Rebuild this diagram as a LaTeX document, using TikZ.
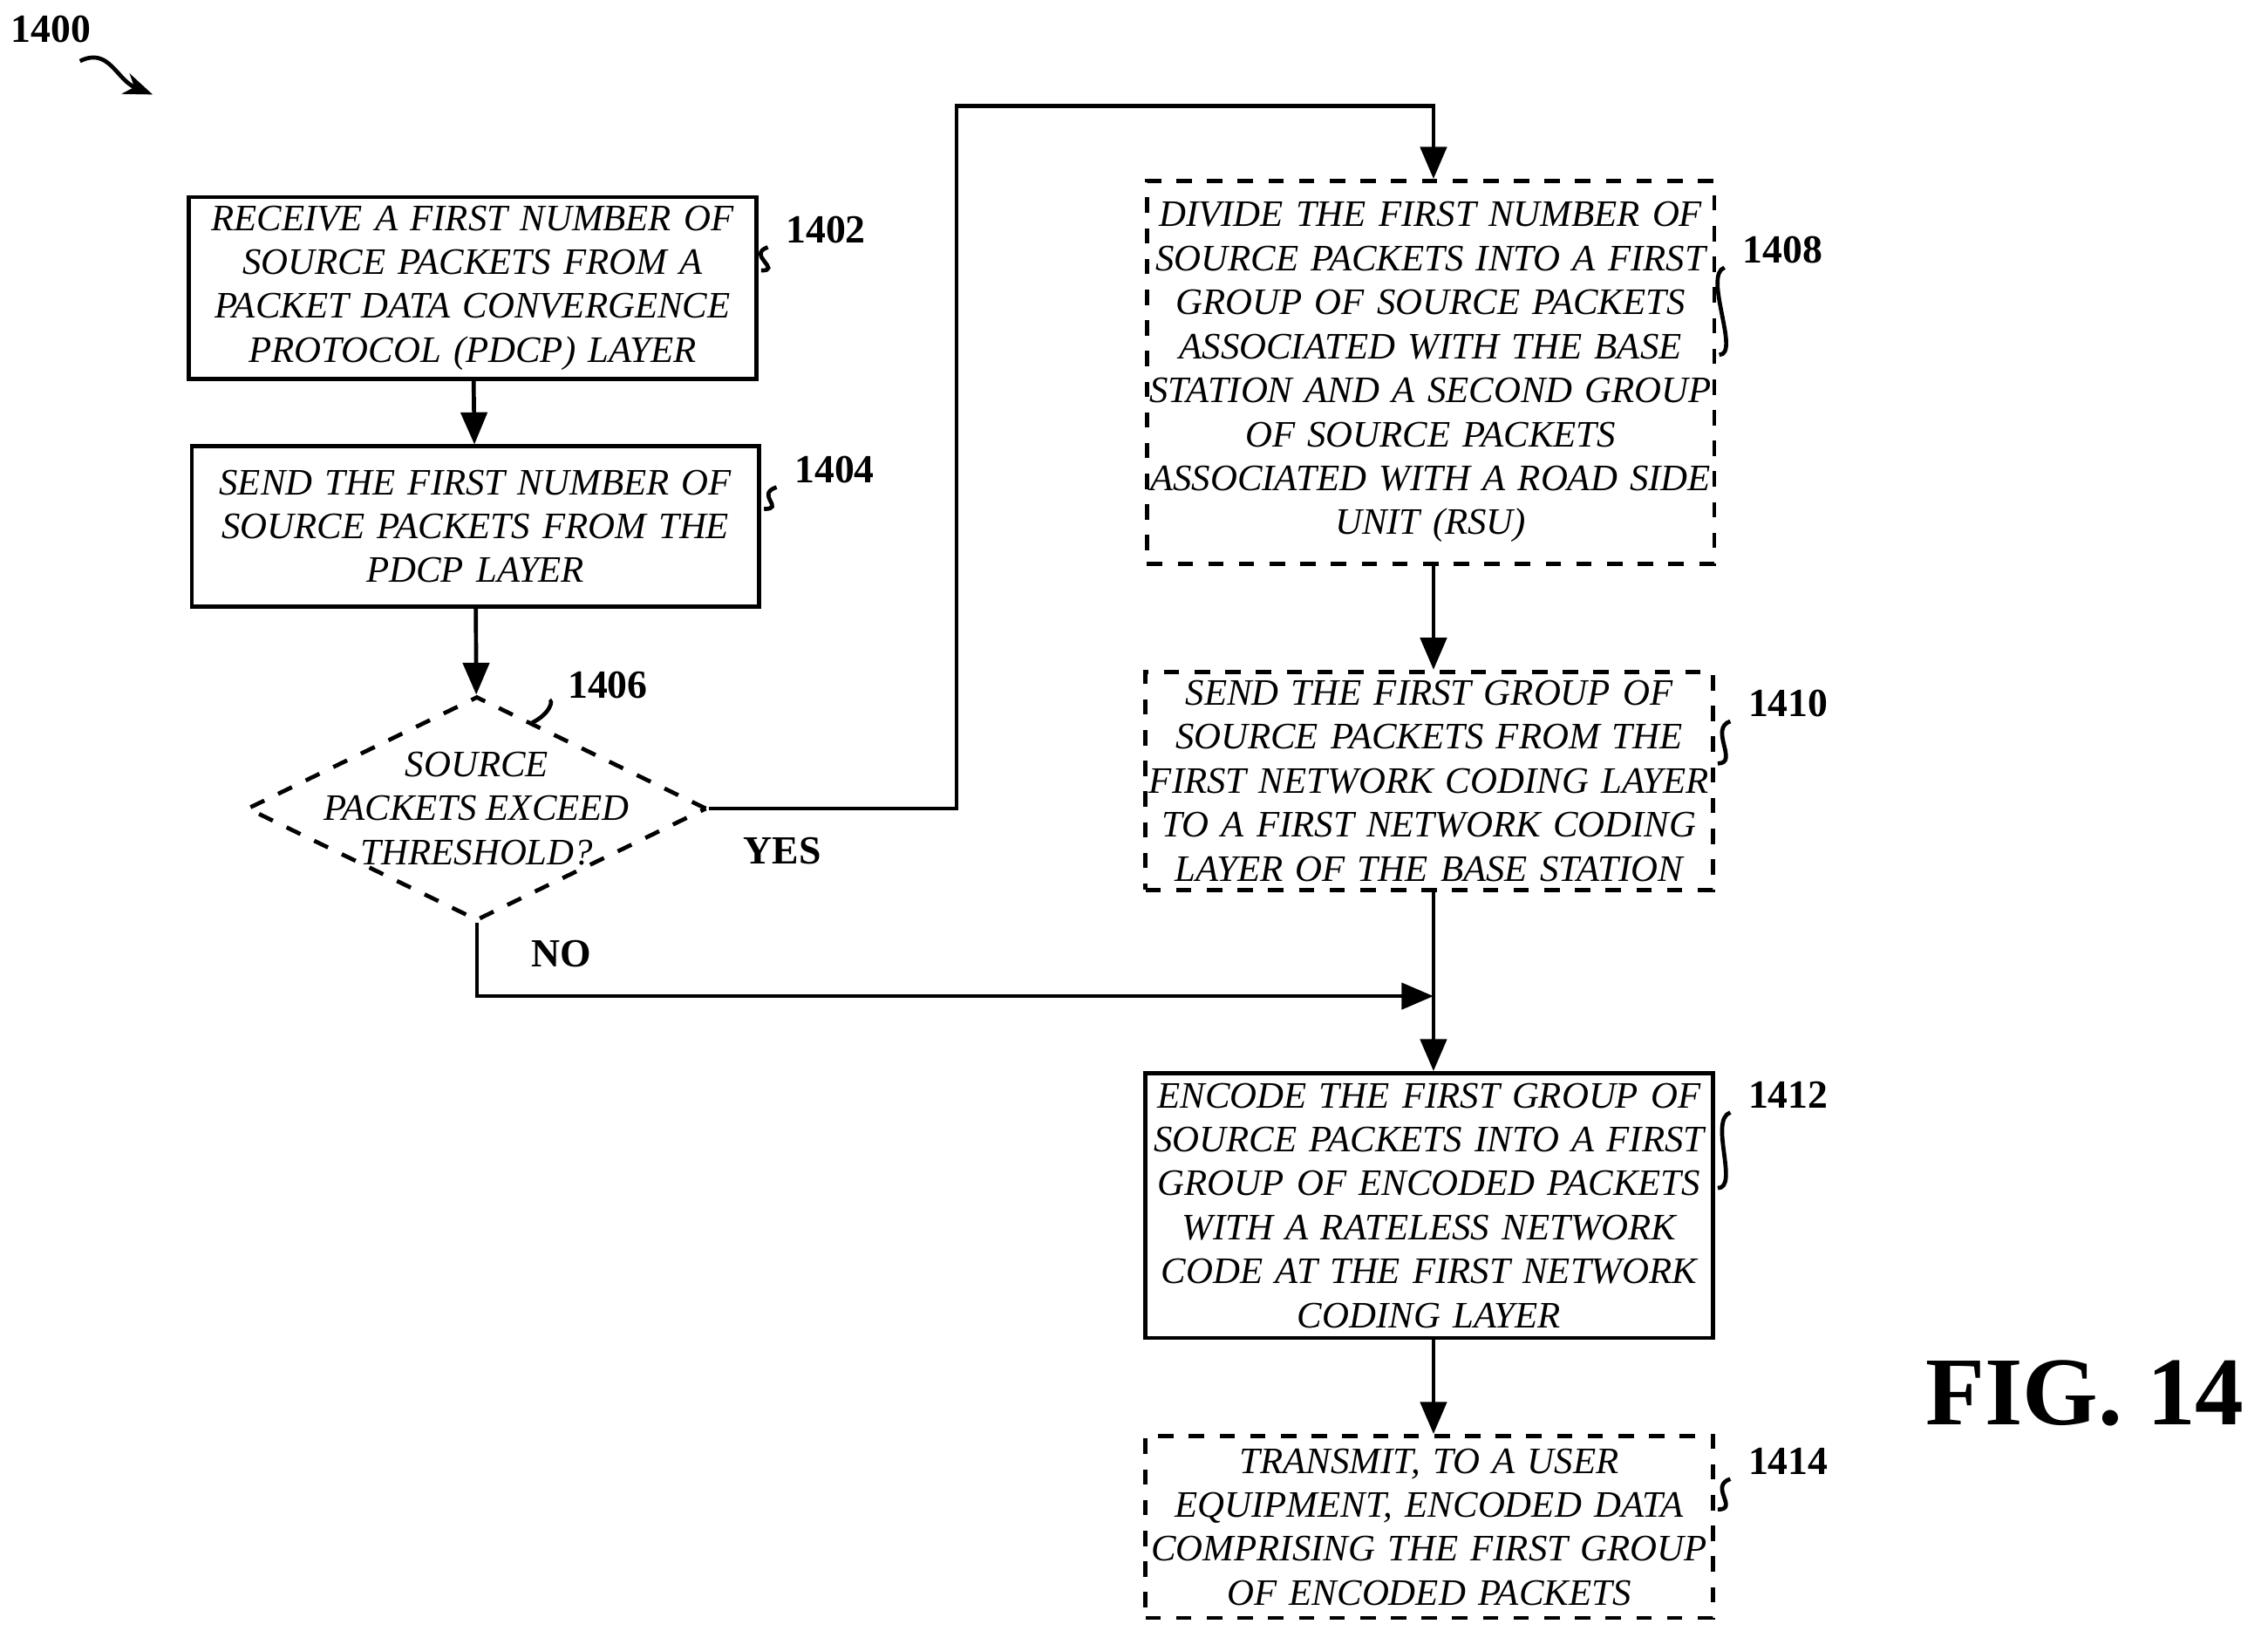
\documentclass[tikz,border=0pt]{standalone}
\usepackage{fontspec}
\setmainfont{Liberation Serif}
\usetikzlibrary{arrows.meta,positioning,calc,shapes.geometric}

\begin{document}
\begin{tikzpicture}[
    x=0.01cm, y=-0.01cm,
    box/.style={rectangle, draw, thick, text width=3.9cm, align=center, inner sep=0pt,
                 font=\fontsize{7.3}{8.6}\selectfont\itshape},
    dbox/.style={box, dashed},
    test/.style={diamond, draw, thick, dashed, aspect=2.05, minimum width=3.16cm, minimum height=1.54cm,
                 inner sep=-0.3cm, align=center, font=\fontsize{7.3}{8.6}\selectfont\itshape},
    ref/.style={font=\fontsize{7.8}{9}\selectfont\bfseries},
    flow/.style={-{Triangle[length=2.2mm,width=1.8mm]}, thick},
    tag/.style={thick},
]
    \useasboundingbox (0,0) rectangle (1560,1121);

    % steps
    \node[box, minimum height=1.25cm] (recv) at (325,198)
        {RECEIVE A FIRST NUMBER OF\\SOURCE PACKETS FROM A\\PACKET DATA CONVERGENCE\\PROTOCOL (PDCP) LAYER};
    \node[box, minimum height=1.10cm] (send) at (327,362)
        {SEND THE FIRST NUMBER OF\\SOURCE PACKETS FROM THE\\PDCP LAYER};
    \node[test] (chk) at (328,556) {SOURCE\\PACKETS EXCEED\\THRESHOLD?};
    \node[dbox, minimum height=2.63cm] (divide) at (984,256)
        {DIVIDE THE FIRST NUMBER OF\\SOURCE PACKETS INTO A FIRST\\GROUP OF SOURCE PACKETS\\ASSOCIATED WITH THE BASE\\STATION AND A SECOND GROUP\\OF SOURCE PACKETS\\ASSOCIATED WITH A ROAD SIDE\\UNIT (RSU)};
    \node[dbox, minimum height=1.50cm] (fwd) at (983,537)
        {SEND THE FIRST GROUP OF\\SOURCE PACKETS FROM THE\\FIRST NETWORK CODING LAYER\\TO A FIRST NETWORK CODING\\LAYER OF THE BASE STATION};
    \node[box, minimum height=1.82cm] (enc) at (983,829)
        {ENCODE THE FIRST GROUP OF\\SOURCE PACKETS INTO A FIRST\\GROUP OF ENCODED PACKETS\\WITH A RATELESS NETWORK\\CODE AT THE FIRST NETWORK\\CODING LAYER};
    \node[dbox, minimum height=1.25cm] (tx) at (983,1050)
        {TRANSMIT, TO A USER\\EQUIPMENT, ENCODED DATA\\COMPRISING THE FIRST GROUP\\OF ENCODED PACKETS};

    % reference numerals
    \node[ref] (fig) at (35,20) {1400};
    \node[ref] (n1402) at (568,158) {1402};
    \node[ref] (n1404) at (574,323) {1404};
    \node[ref] (n1406) at (418,471) {1406};
    \node[ref] (n1408) at (1226,172) {1408};
    \node[ref] (n1410) at (1230,484) {1410};
    \node[ref] (n1412) at (1230,753) {1412};
    \node[ref] (n1414) at (1230,1005) {1414};
    \node[font=\fontsize{19}{19}\selectfont\bfseries, anchor=east] (title) at (1556,958) {FIG. 14};
    \node[ref] (yes) at (538,585) {YES};
    \node[ref] (no) at (386,656) {NO};

    % leader lines
    \coordinate (arr) at (105,65);
    \draw[tag, -{Stealth[length=2mm]}] (55,42) .. controls (75,32) and (80,55) .. (arr);
    \foreach \b/\n in {recv/n1402, send/n1404, divide/n1408, fwd/n1410, enc/n1412, tx/n1414}
        \draw[tag] ($(\b.east)+(2,-12)$) .. controls +(15,0) and +(-15,5) .. ($(\n.west)+(0,12)$);
    \draw[tag] (366,497) .. controls (380,490) and (380,480) .. ($(n1406.west)+(0,12)$);

    % flow
    \coordinate (join) at (986,685);
    \draw[flow] (recv) -- (send);
    \draw[flow] (send) -- (chk);
    \draw[flow] (chk.east) -- (658,556) -- (658,73) -- (986,73) -- (divide.north -| join);
    \draw[flow] (divide.south -| join) -- (fwd.north -| join);
    \draw[flow] (chk.south) |- (join);
    \draw[flow] (fwd.south -| join) -- (enc.north -| join);
    \draw[flow] (enc.south -| join) -- (tx.north -| join);
\end{tikzpicture}
\end{document}
